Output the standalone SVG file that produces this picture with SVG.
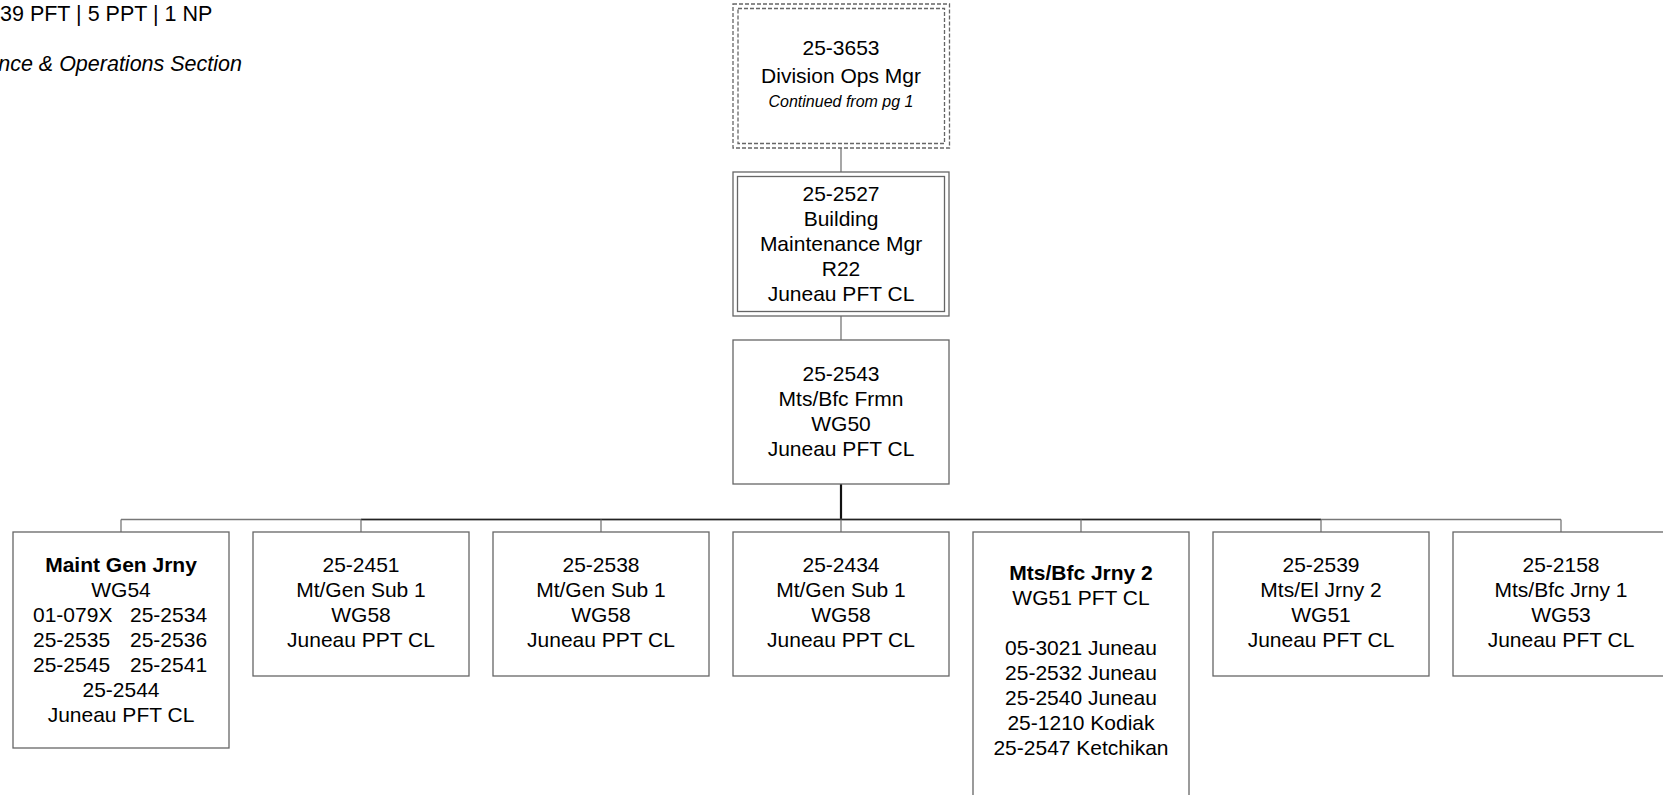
<svg xmlns="http://www.w3.org/2000/svg" width="1663" height="795" viewBox="0 0 1663 795">
<style>
text{font-family:"Liberation Sans",Arial,sans-serif;font-size:21px;fill:#000;text-anchor:middle}
.hdr{text-anchor:start}
.it{font-style:italic}
.b{font-weight:bold}
.box{fill:#fff;stroke:#666;stroke-width:1.3}
.dash{fill:none;stroke:#666;stroke-width:1.3;stroke-dasharray:4 2}
.con{fill:none;stroke:#777;stroke-width:1.3}
.dark{fill:none;stroke:#222;stroke-width:1.5}
</style>
<g id="header">
<text class="hdr" x="0" y="21" style="font-size:21.5px">39 PFT | 5 PPT | 1 NP</text>
<text class="it" x="242" y="71" style="text-anchor:end;font-size:21.5px">nce &amp; Operations Section</text>
</g>
<g id="connectors">
<line class="con" x1="841" y1="148" x2="841" y2="172"/>
<line class="con" x1="841" y1="316" x2="841" y2="340"/>
<line x1="841" y1="484" x2="841" y2="520" stroke="#111" stroke-width="2.2"/>
<line class="con" x1="121" y1="519.5" x2="1561" y2="519.5"/>
<line class="dark" x1="361" y1="519.5" x2="1321" y2="519.5"/>
<line class="con" x1="121" y1="519.5" x2="121" y2="532"/>
<line class="con" x1="361" y1="519.5" x2="361" y2="532"/>
<line class="con" x1="601" y1="519.5" x2="601" y2="532"/>
<line class="con" x1="841" y1="519.5" x2="841" y2="532"/>
<line class="con" x1="1081" y1="519.5" x2="1081" y2="532"/>
<line class="con" x1="1321" y1="519.5" x2="1321" y2="532"/>
<line class="con" x1="1561" y1="519.5" x2="1561" y2="532"/>
</g>
<g id="n-25-3653">
<rect x="733" y="4" width="216.5" height="144" fill="#f2f2f2" class="dash"/>
<rect x="738" y="8.5" width="206.5" height="135" class="dash"/>
<text x="841" y="55">25-3653</text>
<text x="841" y="83">Division Ops Mgr</text>
<text class="it" x="841" y="107" style="font-size:16px">Continued from pg 1</text>
</g>
<g id="n-25-2527">
<rect class="box" x="733" y="172" width="216" height="144"/>
<rect class="box" x="737.5" y="176.5" width="207" height="135"/>
<text x="841" y="201">25-2527</text>
<text x="841" y="226">Building</text>
<text x="841" y="251">Maintenance Mgr</text>
<text x="841" y="276">R22</text>
<text x="841" y="301">Juneau PFT CL</text>
</g>
<g id="n-25-2543">
<rect class="box" x="733" y="340" width="216" height="144"/>
<text x="841" y="381">25-2543</text>
<text x="841" y="406">Mts/Bfc Frmn</text>
<text x="841" y="431">WG50</text>
<text x="841" y="456">Juneau PFT CL</text>
</g>
<g id="n-maint-gen-jrny">
<rect class="box" x="13" y="532" width="216" height="216"/>
<text class="b" x="121" y="572">Maint Gen Jrny</text>
<text x="121" y="597">WG54</text>
<text class="hdr" y="622"><tspan x="33">01-079X</tspan><tspan x="130">25-2534</tspan></text>
<text class="hdr" y="647"><tspan x="33">25-2535</tspan><tspan x="130">25-2536</tspan></text>
<text class="hdr" y="672"><tspan x="33">25-2545</tspan><tspan x="130">25-2541</tspan></text>
<text x="121" y="697">25-2544</text>
<text x="121" y="722">Juneau PFT CL</text>
</g>
<g id="n-25-2451">
<rect class="box" x="253" y="532" width="216" height="144"/>
<text x="361" y="572">25-2451</text>
<text x="361" y="597">Mt/Gen Sub 1</text>
<text x="361" y="622">WG58</text>
<text x="361" y="647">Juneau PPT CL</text>
</g>
<g id="n-25-2538">
<rect class="box" x="493" y="532" width="216" height="144"/>
<text x="601" y="572">25-2538</text>
<text x="601" y="597">Mt/Gen Sub 1</text>
<text x="601" y="622">WG58</text>
<text x="601" y="647">Juneau PPT CL</text>
</g>
<g id="n-25-2434">
<rect class="box" x="733" y="532" width="216" height="144"/>
<text x="841" y="572">25-2434</text>
<text x="841" y="597">Mt/Gen Sub 1</text>
<text x="841" y="622">WG58</text>
<text x="841" y="647">Juneau PPT CL</text>
</g>
<g id="n-mts-bfc-jrny-2">
<rect class="box" x="973" y="532" width="216" height="280"/>
<text class="b" x="1081" y="580">Mts/Bfc Jrny 2</text>
<text x="1081" y="605">WG51 PFT CL</text>
<text x="1081" y="655">05-3021 Juneau</text>
<text x="1081" y="680">25-2532 Juneau</text>
<text x="1081" y="705">25-2540 Juneau</text>
<text x="1081" y="730">25-1210 Kodiak</text>
<text x="1081" y="755">25-2547 Ketchikan</text>
</g>
<g id="n-25-2539">
<rect class="box" x="1213" y="532" width="216" height="144"/>
<text x="1321" y="572">25-2539</text>
<text x="1321" y="597">Mts/El Jrny 2</text>
<text x="1321" y="622">WG51</text>
<text x="1321" y="647">Juneau PFT CL</text>
</g>
<g id="n-25-2158">
<rect class="box" x="1453" y="532" width="216" height="144"/>
<text x="1561" y="572">25-2158</text>
<text x="1561" y="597">Mts/Bfc Jrny 1</text>
<text x="1561" y="622">WG53</text>
<text x="1561" y="647">Juneau PFT CL</text>
</g>
</svg>
